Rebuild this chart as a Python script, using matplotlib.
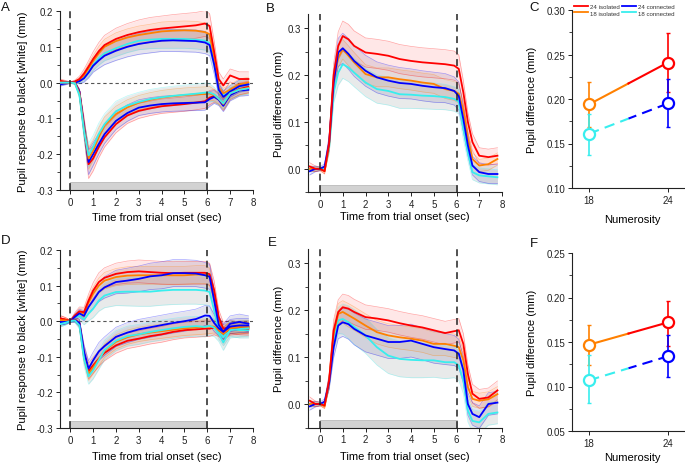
import matplotlib
matplotlib.use('Agg')
import matplotlib.pyplot as plt
import matplotlib.transforms as mtransforms
from matplotlib.patches import Rectangle
from matplotlib.lines import Line2D
from matplotlib.ticker import MultipleLocator, FormatStrFormatter

plt.rcParams['font.family'] = ['Liberation Sans', 'DejaVu Sans']
plt.rcParams['axes.unicode_minus'] = False

# time points (sec)
t = [-0.45, -0.2, 0.0, 0.2, 0.4, 0.6, 0.8, 1.0, 1.25, 1.5, 2.0, 2.5, 3.0, 3.5,
     4.0, 4.5, 5.0, 5.5, 5.9, 6.1, 6.3, 6.5, 6.7, 7.0, 7.4, 7.8]
stim_on, stim_off = 0, 6

# ---- panel A: response to black (upper) and white (lower)
a_blk_iso24 = [0.005, 0.002, 0.0, 0.003, 0.01, 0.025, 0.045, 0.066, 0.088, 0.105, 0.122, 0.133, 0.141,
               0.147, 0.151, 0.154, 0.157, 0.16, 0.165, 0.158, 0.086, 0.01, -0.008, 0.02, 0.01, 0.01]
a_blk_iso18 = [0.0, 0.0, 0.0, 0.002, 0.008, 0.02, 0.04, 0.06, 0.082, 0.1, 0.116, 0.126, 0.133,
               0.138, 0.143, 0.145, 0.146, 0.145, 0.141, 0.135, 0.07, -0.015, -0.03, -0.02, -0.005, 0.0]
a_blk_con24 = [-0.005, -0.002, 0.0, 0.0, 0.004, 0.012, 0.028, 0.047, 0.062, 0.075, 0.089, 0.1, 0.108,
               0.113, 0.117, 0.118, 0.117, 0.116, 0.112, 0.105, 0.05, -0.02, -0.04, -0.025, -0.01, -0.005]
a_blk_con18 = [0.0, 0.0, 0.0, -0.002, 0.004, 0.015, 0.03, 0.05, 0.068, 0.082, 0.096, 0.108, 0.117,
               0.12, 0.122, 0.122, 0.122, 0.12, 0.117, 0.11, 0.06, -0.02, -0.035, -0.022, -0.01, -0.005]
a_wht_iso24 = [0.003, 0.0, 0.0, 0.0, -0.025, -0.12, -0.228, -0.212, -0.18, -0.153, -0.116, -0.092, -0.079,
               -0.072, -0.066, -0.063, -0.06, -0.056, -0.052, -0.042, -0.037, -0.045, -0.062, -0.032, -0.018, -0.012]
a_wht_iso18 = [0.0, 0.0, 0.0, 0.0, -0.03, -0.13, -0.212, -0.19, -0.152, -0.12, -0.088, -0.069, -0.056,
               -0.048, -0.042, -0.038, -0.035, -0.033, -0.032, -0.03, -0.035, -0.045, -0.06, -0.03, -0.02, -0.015]
a_wht_con24 = [-0.003, 0.0, 0.0, 0.0, -0.025, -0.125, -0.222, -0.2, -0.171, -0.144, -0.107, -0.085, -0.07,
               -0.064, -0.06, -0.058, -0.057, -0.056, -0.055, -0.046, -0.04, -0.048, -0.065, -0.035, -0.022, -0.02]
a_wht_con18 = [0.0, 0.0, 0.0, -0.002, -0.035, -0.135, -0.203, -0.18, -0.143, -0.116, -0.08, -0.064, -0.054,
               -0.046, -0.041, -0.037, -0.034, -0.031, -0.028, -0.028, -0.033, -0.045, -0.058, -0.03, -0.02, -0.016]

a_blk_sem_iso24 = [0.005, 0.004, 0.002, 0.004, 0.008, 0.012, 0.016, 0.02, 0.024, 0.027, 0.03, 0.032, 0.034,
                   0.035, 0.035, 0.036, 0.036, 0.036, 0.036, 0.035, 0.03, 0.02, 0.018, 0.018, 0.02, 0.02]
a_blk_sem_iso18 = [0.004, 0.003, 0.002, 0.003, 0.006, 0.01, 0.013, 0.016, 0.019, 0.021, 0.023, 0.024, 0.025,
                   0.025, 0.026, 0.026, 0.026, 0.026, 0.026, 0.025, 0.022, 0.016, 0.014, 0.014, 0.015, 0.015]
a_blk_sem_con24 = [0.005, 0.004, 0.002, 0.003, 0.007, 0.011, 0.015, 0.018, 0.022, 0.025, 0.027, 0.028, 0.029,
                   0.03, 0.03, 0.031, 0.031, 0.031, 0.031, 0.03, 0.026, 0.018, 0.016, 0.016, 0.017, 0.017]
a_blk_sem_con18 = [0.004, 0.003, 0.002, 0.003, 0.006, 0.01, 0.013, 0.016, 0.019, 0.021, 0.023, 0.024, 0.025,
                   0.025, 0.026, 0.026, 0.026, 0.026, 0.026, 0.025, 0.022, 0.016, 0.014, 0.014, 0.015, 0.015]
a_wht_sem_iso24 = [0.005, 0.004, 0.002, 0.003, 0.008, 0.025, 0.04, 0.035, 0.03, 0.027, 0.024, 0.022, 0.021,
                   0.02, 0.02, 0.02, 0.02, 0.02, 0.02, 0.02, 0.018, 0.016, 0.016, 0.016, 0.016, 0.016]
a_wht_sem_iso18 = [0.004, 0.003, 0.002, 0.003, 0.007, 0.02, 0.03, 0.028, 0.026, 0.024, 0.022, 0.021, 0.02,
                   0.02, 0.02, 0.02, 0.02, 0.02, 0.02, 0.019, 0.016, 0.015, 0.015, 0.015, 0.015, 0.015]
a_wht_sem_con24 = [0.005, 0.004, 0.002, 0.003, 0.007, 0.022, 0.035, 0.032, 0.028, 0.026, 0.024, 0.023, 0.022,
                   0.022, 0.022, 0.022, 0.022, 0.022, 0.022, 0.021, 0.018, 0.016, 0.016, 0.016, 0.016, 0.016]
a_wht_sem_con18 = [0.004, 0.003, 0.002, 0.003, 0.008, 0.024, 0.033, 0.032, 0.03, 0.029, 0.028, 0.027, 0.027,
                   0.027, 0.027, 0.027, 0.027, 0.027, 0.027, 0.025, 0.02, 0.017, 0.016, 0.016, 0.016, 0.016]

# ---- panel B: pupil difference
b_iso24 = [0.005, 0.0, 0.0, -0.005, 0.055, 0.2, 0.262, 0.283, 0.276, 0.262, 0.248, 0.245, 0.241,
           0.234, 0.23, 0.227, 0.225, 0.223, 0.22, 0.213, 0.163, 0.1, 0.057, 0.028, 0.025, 0.028]
b_iso18 = [0.0, 0.0, 0.0, -0.005, 0.05, 0.19, 0.237, 0.255, 0.241, 0.227, 0.202, 0.195, 0.195,
           0.191, 0.188, 0.184, 0.181, 0.17, 0.166, 0.16, 0.125, 0.064, 0.021, 0.007, 0.01, 0.021]
b_con24 = [-0.005, 0.0, 0.0, 0.005, 0.055, 0.184, 0.248, 0.257, 0.245, 0.23, 0.209, 0.195, 0.188,
           0.183, 0.181, 0.177, 0.174, 0.172, 0.166, 0.155, 0.106, 0.05, 0.007, -0.007, -0.011, -0.011]
b_con18 = [0.0, 0.0, 0.0, 0.0, 0.045, 0.163, 0.205, 0.223, 0.216, 0.205, 0.184, 0.17, 0.166,
           0.159, 0.158, 0.156, 0.155, 0.153, 0.149, 0.143, 0.085, 0.035, -0.007, -0.014, -0.016, -0.018]

b_sem_iso24 = [0.008, 0.006, 0.004, 0.006, 0.015, 0.025, 0.03, 0.032, 0.032, 0.032, 0.031, 0.031, 0.031,
               0.031, 0.031, 0.031, 0.031, 0.031, 0.031, 0.03, 0.025, 0.02, 0.018, 0.017, 0.017, 0.017]
b_sem_iso18 = [0.006, 0.005, 0.003, 0.005, 0.012, 0.018, 0.02, 0.021, 0.021, 0.021, 0.02, 0.02, 0.02,
               0.02, 0.02, 0.02, 0.02, 0.02, 0.02, 0.02, 0.018, 0.015, 0.013, 0.013, 0.013, 0.013]
b_sem_con24 = [0.008, 0.006, 0.004, 0.006, 0.015, 0.024, 0.03, 0.032, 0.033, 0.033, 0.033, 0.033, 0.033,
               0.033, 0.032, 0.032, 0.032, 0.031, 0.03, 0.03, 0.026, 0.022, 0.02, 0.02, 0.02, 0.02]
b_sem_con18 = [0.006, 0.005, 0.003, 0.005, 0.012, 0.022, 0.027, 0.03, 0.03, 0.03, 0.03, 0.03, 0.03,
               0.03, 0.029, 0.028, 0.028, 0.027, 0.026, 0.026, 0.022, 0.018, 0.016, 0.016, 0.016, 0.016]

# ---- panel D: second experiment, black (upper) and white (lower)
d_blk_iso24 = [0.008, 0.004, 0.0, 0.016, 0.028, 0.025, 0.058, 0.086, 0.11, 0.122, 0.133, 0.138, 0.14,
               0.138, 0.136, 0.135, 0.136, 0.136, 0.136, 0.132, 0.087, 0.012, -0.021, -0.016, -0.02, -0.021]
d_blk_iso18 = [0.003, 0.002, 0.0, 0.014, 0.025, 0.022, 0.052, 0.077, 0.1, 0.114, 0.124, 0.128, 0.129,
               0.129, 0.129, 0.129, 0.129, 0.131, 0.131, 0.125, 0.07, -0.002, -0.025, -0.02, -0.02, -0.018]
d_blk_con24 = [-0.003, -0.002, 0.0, 0.012, 0.022, 0.015, 0.04, 0.058, 0.082, 0.095, 0.11, 0.114, 0.119,
               0.126, 0.129, 0.135, 0.135, 0.134, 0.129, 0.125, 0.058, -0.01, -0.03, -0.007, -0.002, -0.007]
d_blk_con18 = [-0.008, -0.004, 0.0, 0.01, 0.015, 0.005, 0.021, 0.035, 0.058, 0.072, 0.082, 0.083, 0.083,
               0.083, 0.086, 0.088, 0.088, 0.088, 0.086, 0.082, 0.03, -0.025, -0.045, -0.02, -0.025, -0.025]
d_wht_iso24 = [0.008, 0.004, 0.0, 0.005, -0.005, -0.09, -0.14, -0.124, -0.105, -0.089, -0.068, -0.055, -0.049,
               -0.042, -0.037, -0.03, -0.025, -0.023, -0.021, -0.021, -0.018, -0.025, -0.035, -0.021, -0.018, -0.016]
d_wht_iso18 = [0.003, 0.002, 0.0, 0.004, -0.008, -0.1, -0.148, -0.13, -0.107, -0.083, -0.058, -0.045, -0.037,
               -0.032, -0.028, -0.024, -0.02, -0.018, -0.016, -0.015, -0.015, -0.025, -0.035, -0.02, -0.016, -0.016]
d_wht_con24 = [-0.003, -0.002, 0.0, 0.003, -0.005, -0.085, -0.133, -0.11, -0.085, -0.07, -0.044, -0.032, -0.023,
               -0.017, -0.011, -0.005, 0.0, 0.006, 0.016, 0.015, -0.005, -0.02, -0.03, -0.015, -0.012, -0.012]
d_wht_con18 = [-0.008, -0.004, 0.0, 0.002, -0.012, -0.105, -0.155, -0.138, -0.109, -0.081, -0.055, -0.042, -0.037,
               -0.03, -0.025, -0.02, -0.016, -0.014, -0.016, -0.013, -0.018, -0.035, -0.06, -0.025, -0.022, -0.02]

d_blk_sem_iso24 = [0.008, 0.006, 0.003, 0.008, 0.012, 0.014, 0.018, 0.022, 0.026, 0.028, 0.03, 0.031, 0.032,
                   0.032, 0.032, 0.032, 0.032, 0.032, 0.032, 0.031, 0.026, 0.02, 0.018, 0.018, 0.018, 0.018]
d_blk_sem_iso18 = [0.006, 0.005, 0.003, 0.006, 0.01, 0.012, 0.015, 0.018, 0.021, 0.023, 0.024, 0.025, 0.025,
                   0.025, 0.025, 0.025, 0.025, 0.025, 0.025, 0.024, 0.02, 0.016, 0.015, 0.015, 0.015, 0.015]
d_blk_sem_con24 = [0.008, 0.006, 0.003, 0.008, 0.012, 0.014, 0.018, 0.022, 0.027, 0.03, 0.033, 0.035, 0.036,
                   0.037, 0.038, 0.038, 0.038, 0.037, 0.036, 0.035, 0.03, 0.024, 0.022, 0.022, 0.022, 0.022]
d_blk_sem_con18 = [0.008, 0.006, 0.003, 0.008, 0.012, 0.015, 0.02, 0.025, 0.03, 0.034, 0.038, 0.04, 0.041,
                   0.041, 0.041, 0.041, 0.04, 0.04, 0.04, 0.038, 0.032, 0.026, 0.024, 0.022, 0.022, 0.022]
d_wht_sem_iso24 = [0.008, 0.006, 0.003, 0.006, 0.01, 0.02, 0.022, 0.022, 0.022, 0.022, 0.022, 0.022, 0.022,
                   0.022, 0.022, 0.022, 0.022, 0.022, 0.022, 0.022, 0.02, 0.018, 0.018, 0.018, 0.018, 0.018]
d_wht_sem_iso18 = [0.006, 0.005, 0.003, 0.005, 0.008, 0.016, 0.018, 0.018, 0.018, 0.019, 0.02, 0.02, 0.02,
                   0.02, 0.02, 0.02, 0.02, 0.02, 0.02, 0.02, 0.018, 0.016, 0.016, 0.016, 0.016, 0.016]
d_wht_sem_con24 = [0.008, 0.006, 0.003, 0.006, 0.01, 0.02, 0.022, 0.023, 0.025, 0.026, 0.027, 0.028, 0.028,
                   0.028, 0.028, 0.028, 0.028, 0.028, 0.028, 0.027, 0.024, 0.02, 0.02, 0.02, 0.02, 0.02]
d_wht_sem_con18 = [0.008, 0.006, 0.003, 0.006, 0.01, 0.02, 0.022, 0.024, 0.026, 0.027, 0.028, 0.028, 0.028,
                   0.028, 0.028, 0.028, 0.028, 0.028, 0.028, 0.027, 0.025, 0.022, 0.022, 0.022, 0.022, 0.022]

# ---- panel E: pupil difference, second experiment
e_iso24 = [0.007, 0.0, 0.0, -0.003, 0.05, 0.157, 0.196, 0.206, 0.203, 0.196, 0.185, 0.182, 0.178,
           0.172, 0.167, 0.163, 0.157, 0.151, 0.155, 0.157, 0.128, 0.064, 0.022, 0.011, 0.014, 0.029]
e_iso18 = [0.0, 0.0, 0.0, -0.005, 0.048, 0.15, 0.192, 0.196, 0.189, 0.182, 0.167, 0.153, 0.146,
           0.142, 0.139, 0.135, 0.128, 0.128, 0.124, 0.121, 0.093, 0.036, 0.011, 0.007, 0.01, 0.021]
e_con24 = [-0.005, 0.0, 0.0, 0.005, 0.045, 0.121, 0.167, 0.174, 0.17, 0.16, 0.146, 0.139, 0.132,
           0.132, 0.135, 0.128, 0.121, 0.117, 0.114, 0.107, 0.072, 0.0, -0.021, -0.028, 0.0, 0.003]
e_con18 = [0.0, 0.0, 0.0, 0.0, 0.045, 0.135, 0.178, 0.181, 0.174, 0.164, 0.146, 0.121, 0.103,
           0.096, 0.094, 0.093, 0.093, 0.089, 0.089, 0.082, 0.05, -0.014, -0.036, -0.039, -0.021, -0.018]

e_sem_iso24 = [0.008, 0.006, 0.004, 0.006, 0.015, 0.022, 0.026, 0.028, 0.028, 0.027, 0.026, 0.025, 0.025,
               0.025, 0.025, 0.025, 0.025, 0.025, 0.025, 0.025, 0.022, 0.02, 0.02, 0.02, 0.02, 0.02]
e_sem_iso18 = [0.006, 0.005, 0.003, 0.005, 0.012, 0.018, 0.022, 0.024, 0.025, 0.025, 0.025, 0.025, 0.025,
               0.025, 0.025, 0.025, 0.025, 0.025, 0.025, 0.024, 0.02, 0.018, 0.016, 0.016, 0.016, 0.016]
e_sem_con24 = [0.008, 0.006, 0.004, 0.006, 0.014, 0.022, 0.028, 0.03, 0.032, 0.034, 0.035, 0.035, 0.035,
               0.035, 0.035, 0.034, 0.034, 0.033, 0.032, 0.031, 0.027, 0.024, 0.024, 0.024, 0.024, 0.024]
e_sem_con18 = [0.006, 0.005, 0.003, 0.005, 0.012, 0.02, 0.028, 0.032, 0.035, 0.037, 0.038, 0.038, 0.038,
               0.038, 0.038, 0.037, 0.036, 0.035, 0.033, 0.032, 0.028, 0.024, 0.024, 0.024, 0.024, 0.024]

# ---- panels C and F: mean pupil difference by numerosity
numerosity = [18, 24]
labels = ['24 isolated', '18 isolated', '24 connected', '18 connected']
c_iso = [0.194, 0.241]
c_iso_lo = [0.025, 0.033]
c_iso_hi = [0.025, 0.033]
c_con = [0.161, 0.195]
c_con_lo = [0.024, 0.027]
c_con_hi = [0.022, 0.027]
f_iso = [0.147, 0.172]
f_iso_lo = [0.023, 0.026]
f_iso_hi = [0.022, 0.024]
f_con = [0.107, 0.134]
f_con_lo = [0.026, 0.023]
f_con_hi = [0.028, 0.024]

RED = '#ff0000'
ORANGE = '#ff8000'
BLUE = '#0000ff'
CYAN = '#38eeee'
band_fill = {RED: (1.0, 0.3, 0.3, 0.13), ORANGE: (1.0, 0.6, 0.2, 0.12),
             BLUE: (0.35, 0.35, 0.6, 0.16), CYAN: (0.55, 0.6, 0.6, 0.2)}

W, H = 685, 464
fig = plt.figure(figsize=(W / 100, H / 100), dpi=100)


def px_axes(left, top, right, bottom):
    return fig.add_axes([left / W, 1 - bottom / H, (right - left) / W, (bottom - top) / H])


def style_axes(ax):
    for s in ['top', 'right']:
        ax.spines[s].set_visible(False)
    for s in ['left', 'bottom']:
        ax.spines[s].set_linewidth(0.8)
        ax.spines[s].set_color('#222222')
    ax.tick_params(which='major', direction='out', length=3, width=0.7, labelsize=7, pad=2, colors='#222222')
    ax.tick_params(which='minor', direction='out', length=2, width=0.6, colors='#222222')


def draw_traces(ax, traces):
    for mean, sem, col in traces:
        lo = [m - s for m, s in zip(mean, sem)]
        hi = [m + s for m, s in zip(mean, sem)]
        ax.fill_between(t, lo, hi, color=band_fill[col], lw=0, zorder=1)
        ax.plot(t, lo, color=col, lw=0.5, alpha=0.35, zorder=2)
        ax.plot(t, hi, color=col, lw=0.5, alpha=0.35, zorder=2)
    for mean, sem, col in traces:
        ax.plot(t, mean, color=col, lw=1.3, zorder=3)


def time_panel(ax, xlim, ylim, zero_line, ylabel, ylab_x, xlab_y):
    style_axes(ax)
    ax.set_xlim(xlim)
    ax.set_ylim(ylim)
    ax.xaxis.set_major_locator(MultipleLocator(1))
    ax.yaxis.set_major_locator(MultipleLocator(0.1))
    ax.yaxis.set_minor_locator(MultipleLocator(0.05))
    ax.yaxis.set_major_formatter(FormatStrFormatter('%.1f'))
    for xv in (stim_on, stim_off):
        ax.axvline(xv, color='#222222', lw=1.1, ls=(0, (4.5, 3)), zorder=5)
    if zero_line:
        ax.axhline(0, color='#555555', lw=0.8, ls=(0, (3, 2.5)), zorder=0.5)
    trans = mtransforms.blended_transform_factory(ax.transData, ax.transAxes)
    ax.add_patch(Rectangle((stim_on, 0), stim_off - stim_on, 0.042, transform=trans,
                           facecolor='#d2d2d2', edgecolor='#b0b0b0', lw=0.5, zorder=0.6))
    ax.set_xlabel('Time from trial onset (sec)', fontsize=8)
    ax.set_ylabel(ylabel, fontsize=8)
    ax.yaxis.set_label_coords(ylab_x, 0.5)
    ax.xaxis.set_label_coords(0.5, xlab_y)


axA = px_axes(60, 12, 253, 191)
axB = px_axes(307.5, 15, 502, 193.3)
axC = px_axes(572, 11, 685, 189)
axD = px_axes(60, 251, 253, 429)
axE = px_axes(307.5, 250, 502, 428.5)
axF = px_axes(572, 254, 685, 432)

time_panel(axA, (-0.45, 8.0), (-0.3, 0.2), True, 'Pupil response to black [white] (mm)', -0.165, -0.125)
draw_traces(axA, [(a_blk_con18, a_blk_sem_con18, CYAN), (a_blk_iso18, a_blk_sem_iso18, ORANGE),
                  (a_blk_con24, a_blk_sem_con24, BLUE), (a_blk_iso24, a_blk_sem_iso24, RED),
                  (a_wht_iso24, a_wht_sem_iso24, RED), (a_wht_con24, a_wht_sem_con24, BLUE),
                  (a_wht_iso18, a_wht_sem_iso18, ORANGE), (a_wht_con18, a_wht_sem_con18, CYAN)])

time_panel(axB, (-0.55, 8.0), (-0.05, 0.33), False, 'Pupil difference (mm)', -0.12, -0.105)
draw_traces(axB, [(b_con18, b_sem_con18, CYAN), (b_iso18, b_sem_iso18, ORANGE),
                  (b_con24, b_sem_con24, BLUE), (b_iso24, b_sem_iso24, RED)])

time_panel(axD, (-0.45, 8.0), (-0.3, 0.2), True, 'Pupil response to black [white] (mm)', -0.165, -0.13)
draw_traces(axD, [(d_blk_con18, d_blk_sem_con18, CYAN), (d_blk_iso18, d_blk_sem_iso18, ORANGE),
                  (d_blk_iso24, d_blk_sem_iso24, RED), (d_blk_con24, d_blk_sem_con24, BLUE),
                  (d_wht_iso24, d_wht_sem_iso24, RED), (d_wht_iso18, d_wht_sem_iso18, ORANGE),
                  (d_wht_con24, d_wht_sem_con24, BLUE), (d_wht_con18, d_wht_sem_con18, CYAN)])

time_panel(axE, (-0.55, 8.0), (-0.05, 0.33), False, 'Pupil difference (mm)', -0.12, -0.13)
draw_traces(axE, [(e_con18, e_sem_con18, CYAN), (e_iso18, e_sem_iso18, ORANGE),
                  (e_con24, e_sem_con24, BLUE), (e_iso24, e_sem_iso24, RED)])


def numerosity_panel(ax, ylim, iso, iso_lo, iso_hi, con, con_lo, con_hi, xlab_y, legend):
    style_axes(ax)
    ax.set_xlim(16.7, 25.3)
    ax.set_ylim(ylim)
    ax.set_xticks(numerosity)
    ax.yaxis.set_major_locator(MultipleLocator(0.05))
    ax.yaxis.set_minor_locator(MultipleLocator(0.025))
    ax.yaxis.set_major_formatter(FormatStrFormatter('%.2f'))
    n0, n1 = numerosity
    nm = (n0 + n1) / 2
    im = (iso[0] + iso[1]) / 2
    cm = (con[0] + con[1]) / 2
    ax.plot([n0, nm], [iso[0], im], color=ORANGE, lw=1.5, zorder=2)
    ax.plot([nm, n1], [im, iso[1]], color=RED, lw=1.5, zorder=2)
    ax.plot([n0, nm], [con[0], cm], color=CYAN, lw=1.5, ls=(0, (5, 3)), zorder=2)
    ax.plot([nm, n1], [cm, con[1]], color=BLUE, lw=1.5, ls=(1, (5, 3)), zorder=2)
    pts = [(n0, iso[0], iso_lo[0], iso_hi[0], ORANGE), (n1, iso[1], iso_lo[1], iso_hi[1], RED),
           (n0, con[0], con_lo[0], con_hi[0], CYAN), (n1, con[1], con_lo[1], con_hi[1], BLUE)]
    for x, y, lo, hi, col in pts:
        ax.errorbar([x], [y], yerr=[[lo], [hi]], fmt='none', ecolor=col, elinewidth=1.2,
                    capsize=1.5, capthick=1.0, zorder=3)
        ax.plot([x], [y], 'o', ms=8, mfc='white', mec=col, mew=1.6, zorder=4)
    ax.set_xlabel('Numerosity', fontsize=8)
    ax.set_ylabel('Pupil difference (mm)', fontsize=8)
    ax.yaxis.set_label_coords(-0.31, 0.5)
    ax.xaxis.set_label_coords(0.53, xlab_y)
    if legend:
        handles = [Line2D([], [], color=c, lw=1.3) for c in (RED, ORANGE, BLUE, CYAN)]
        ax.legend(handles, labels, ncol=2, loc='upper left', bbox_to_anchor=(0.015, 1.035),
                  fontsize=4.4, frameon=False, handlelength=2.3, handletextpad=0.3,
                  columnspacing=0.5, labelspacing=0.2, borderaxespad=0.0, borderpad=0.0,
                  labelcolor='#333333')


numerosity_panel(axC, (0.10, 0.30), c_iso, c_iso_lo, c_iso_hi, c_con, c_con_lo, c_con_hi, -0.145, True)
numerosity_panel(axF, (0.05, 0.25), f_iso, f_iso_lo, f_iso_hi, f_con, f_con_lo, f_con_hi, -0.118, False)

for letter, x, y in [('A', 1, 2), ('B', 266, 3), ('C', 529, 2), ('D', 1, 235), ('E', 268, 237), ('F', 530, 238)]:
    fig.text(x / W, 1 - y / H, letter, fontsize=9.5, va='top', ha='left', color='#111111')

fig.savefig('out.png', dpi=100)
